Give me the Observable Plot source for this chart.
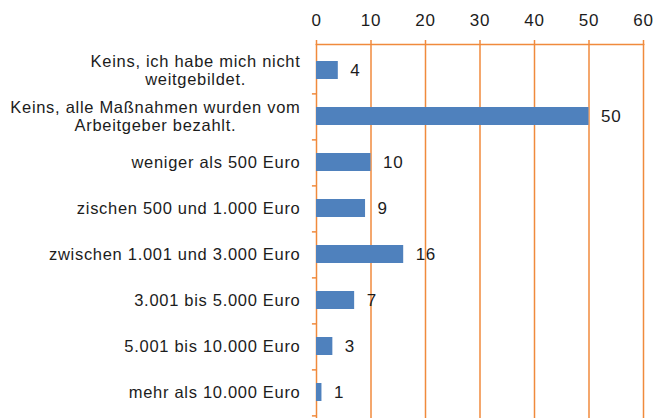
<!DOCTYPE html>
<html>
<head>
<meta charset="utf-8">
<script src="https://cdn.jsdelivr.net/npm/d3@7"></script>
<script src="https://cdn.jsdelivr.net/npm/@observablehq/plot@0.6"></script>
<style>
  html, body { margin: 0; padding: 0; background: #ffffff; }
  #chart svg text { letter-spacing: 0.7px; }
</style>
</head>
<body>
<div id="chart"></div>
<script>
const categories = [
  "Keins, ich habe mich nicht\nweitgebildet.",
  "Keins, alle Maßnahmen wurden vom\nArbeitgeber bezahlt.",
  "weniger als 500 Euro",
  "zischen 500 und 1.000 Euro",
  "zwischen 1.001 und 3.000 Euro",
  "3.001 bis 5.000 Euro",
  "5.001 bis 10.000 Euro",
  "mehr als 10.000 Euro"
];
const values = [4, 50, 10, 9, 16, 7, 3, 1];
const xTicks = [0, 10, 20, 30, 40, 50, 60];

const data = categories.map((c, i) => ({category: c, value: values[i]}));
const orange = "#F08A3C";
const textColor = "#1c1c1c";
const step = (418 - 44) / categories.length;

const chart = Plot.plot({
  width: 653,
  height: 418,
  marginTop: 44,
  marginBottom: 0,
  marginLeft: 316,
  marginRight: 10,
  style: {fontFamily: "'Liberation Sans', Arial, sans-serif", background: "#ffffff", color: textColor},
  x: {domain: [0, 60], axis: null},
  y: {domain: categories, paddingInner: 0.6, paddingOuter: 0.3, axis: null},
  marks: [
    Plot.gridX(xTicks, {stroke: orange, strokeOpacity: 1, strokeWidth: 1.5}),
    Plot.frame({anchor: "top", stroke: orange, strokeWidth: 1.5}),
    Plot.axisX(xTicks, {anchor: "top", label: null, tickSize: 5, tickPadding: 14, stroke: orange, strokeWidth: 1.5, fill: textColor, fontSize: 17}),
    Plot.ruleY(categories, {y: d => d, x1: -0.75, x2: 0, dy: step / 2, stroke: orange, strokeWidth: 1.5}),
    Plot.axisY({anchor: "left", label: null, tickSize: 0, tickPadding: 16, fontSize: 16.5, lineHeight: 1.1, fill: textColor}),
    Plot.barX(data, {x: "value", y: "category", fill: "#4F81BD"}),
    Plot.text(data, {x: "value", y: "category", text: d => String(d.value), textAnchor: "start", dx: 12, fontSize: 17, fill: textColor})
  ]
});
document.getElementById("chart").appendChild(chart);

// center multi-line category labels within their right-aligned block
chart.querySelectorAll("text").forEach(t => {
  const spans = t.querySelectorAll("tspan");
  if (spans.length < 2) return;
  const w = t.getBBox().width;
  t.setAttribute("text-anchor", "middle");
  t.style.textAnchor = "middle";
  spans.forEach(s => s.setAttribute("x", String(-w / 2)));
});
</script>
</body>
</html>
